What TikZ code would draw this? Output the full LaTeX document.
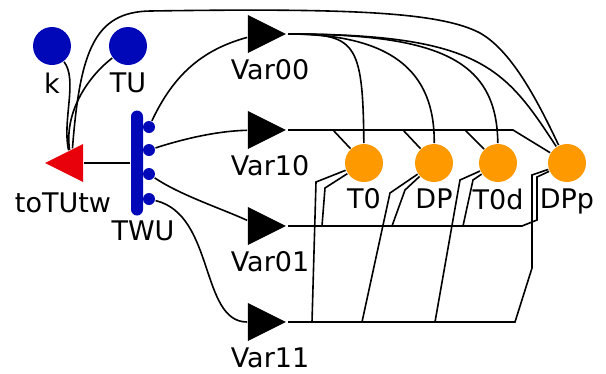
\documentclass[tikz,border=0pt]{standalone}
\usepackage{fontspec}
\setmainfont{DejaVu Sans}
\usetikzlibrary{shapes.geometric, positioning}
\definecolor{nblue}{HTML}{0008B8}
\definecolor{nred}{HTML}{E8000B}
\definecolor{norange}{HTML}{FF9900}
\tikzset{
  every picture/.style={line width=1.6pt},
  lbl/.style={font=\fontsize{27}{32}\selectfont, inner sep=0pt, anchor=north},
  ball/.style={circle, fill=#1, inner sep=0pt, minimum size=38pt},
  tri/.style={isosceles triangle, isosceles triangle stretches, fill=#1, inner sep=0pt,
              minimum width=38pt, minimum height=38pt, anchor=apex},
  link/.style={draw=black, line width=1.6pt},
}

\begin{document}
\begin{tikzpicture}[x=1pt, y=-1pt]
  \useasboundingbox (0,0) rectangle (606,373);
  % inputs on the left
  \node[ball=nblue] (k) at (52,46) {};
  \node[lbl] (k-l) at (52,72) {k};
  \node[ball=nblue] (TU) at (128,46) {};
  \node[lbl] (TU-l) at (128,72) {TU};
  \node[tri=nred, shape border rotate=180] (toTUtw) at (43,163) {};
  \node[lbl] (toTUtw-l) at (63,192) {toTUtw};
  \node[fill=nblue, rounded corners=6pt, minimum width=12pt, minimum height=105pt, inner sep=0pt] (TWU) at (137,163) {};
  \node[lbl] (TWU-l) at (143,220) {TWU};
  \foreach \i/\y in {1/127, 2/150, 3/174, 4/199}
    \node[circle, fill=nblue, inner sep=0pt, minimum size=12pt] (tw\i) at (149,\y) {};
  % the four Var nodes and the targets
  \foreach \n/\y in {00/34, 10/130, 01/226, 11/322}{
    \node[tri=black] (v\n) at (288,\y) {};
    \node[lbl] (v\n-l) at (270,{\y+25}) {Var\n};
  }
  \foreach \n/\x in {T0/364, DP/434, T0d/498, DPp/567}{
    \node[ball=norange] (\n) at (\x,163) {};
    \node[lbl] (\n-l) at (\x,188) {\n};
  }

  \draw[link] (k) .. controls (78,80) and (62,120) .. (toTUtw);
  \draw[link] (TU) .. controls (90,75) and (64,110) .. (toTUtw);
  \draw[link] (TWU) -- (toTUtw);
  \draw[link] (toTUtw) .. controls (80,50) and (95,12) .. (150,11)
              .. controls (350,8) and (440,12) .. (480,33)
              .. controls (510,50) and (535,95) .. (DPp);
  % TWU fans out to the Var nodes
  \draw[link] (tw1) .. controls (173,76) and (201,50) .. (v00);
  \draw[link] (tw2) .. controls (180,140) and (215,131) .. (v10);
  \draw[link] (tw3) .. controls (180,195) and (220,208) .. (v01);
  \draw[link] (tw4) .. controls (215,215) and (200,322) .. (v11);
  % Var nodes to the targets
  \foreach \t/\ax/\bx/\by in {T0/355/363/40, DP/390/435/70, T0d/440/497/60, DPp/480/505/68}
    \draw[link] (v00.apex) .. controls (\ax,34) and (\bx,\by) .. (\t);
  \foreach \t/\d in {T0/45, DP/115, T0d/177, DPp/225}
    \draw[link] (v10.apex) -- +(\d,0) -- (\t);
  \foreach \t/\d/\u/\h in {T0/34/37/38, DP/104/117/36, T0d/175/185/46}
    \draw[link] (v01.apex) -- +(\d,0) -- +(\u,-\h) -- (\t);
  \draw[link] (v01.apex) -- +(234,0) -- +(249,-6) -- +(249,-49) -- (DPp);
  \foreach \t/\d/\u/\h in {T0/24/28/140, DP/74/102/129, T0d/147/172/142}
    \draw[link] (v11.apex) -- +(\d,0) -- +(\u,-\h) -- (\t);
  \draw[link] (v11.apex) -- +(227,0) -- +(244,-54) -- +(244,-147) -- (DPp);
\end{tikzpicture}
\end{document}
